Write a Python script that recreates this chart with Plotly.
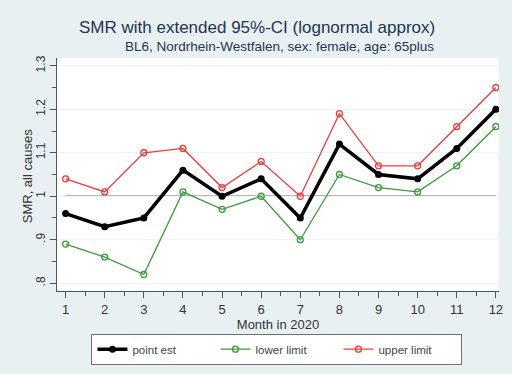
import plotly.graph_objects as go

# Monthly SMR estimates with lognormal 95% confidence limits
months = list(range(1, 13))
point_est = [0.96, 0.93, 0.95, 1.06, 1.00, 1.04, 0.95, 1.12, 1.05, 1.04, 1.11, 1.20]
lower_limit = [0.89, 0.86, 0.82, 1.01, 0.97, 1.00, 0.90, 1.05, 1.02, 1.01, 1.07, 1.16]
upper_limit = [1.04, 1.01, 1.10, 1.11, 1.02, 1.08, 1.00, 1.19, 1.07, 1.07, 1.16, 1.25]

y_ticks = [0.8, 0.9, 1.0, 1.1, 1.2, 1.3]
y_tick_text = [".8", ".9", "1", "1.1", "1.2", "1.3"]
reference_smr = 1.0

BG = "#e9f0f2"
FONT = "Liberation Sans, Arial, sans-serif"

fig = go.Figure()

fig.add_trace(go.Scatter(
    x=months, y=point_est, name="point est", mode="lines+markers",
    line=dict(color="black", width=3.5),
    marker=dict(symbol="circle", size=7, color="black"),
))
fig.add_trace(go.Scatter(
    x=months, y=lower_limit, name="lower limit", mode="lines+markers",
    line=dict(color="#3b9a3b", width=1.3),
    marker=dict(symbol="circle-open", size=6, color="#3b9a3b", line=dict(width=1.3)),
))
fig.add_trace(go.Scatter(
    x=months, y=upper_limit, name="upper limit", mode="lines+markers",
    line=dict(color="#f03a3a", width=1.3),
    marker=dict(symbol="circle-open", size=6, color="#f03a3a", line=dict(width=1.3)),
))

# horizontal reference line at SMR = 1
fig.add_shape(type="line", xref="x", yref="y",
              x0=months[0], x1=months[-1], y0=reference_smr, y1=reference_smr,
              line=dict(color="#707070", width=1.3), layer="below")

fig.update_layout(
    width=512, height=374,
    margin=dict(l=57, r=9, t=58, b=81),
    paper_bgcolor=BG, plot_bgcolor="white",
    font=dict(family=FONT, color="#333333", size=12),
    showlegend=True,
    legend=dict(
        orientation="h", x=0.078, xanchor="left", y=-0.183, yanchor="top",
        bgcolor="white", bordercolor="#707070", borderwidth=1,
        font=dict(size=11.5, color="#444444"),
        entrywidth=78, entrywidthmode="pixels",
    ),
    annotations=[
        dict(text="SMR with extended 95%-CI (lognormal approx)",
             xref="paper", yref="paper", x=(259 - 57) / 446, y=1.0 + (58 - 27) / 235,
             xanchor="center", yanchor="middle", showarrow=False,
             font=dict(size=17, color="#1f3550", family=FONT)),
        dict(text="BL6, Nordrhein-Westfalen, sex: female, age: 65plus",
             xref="paper", yref="paper", x=(282 - 57) / 446, y=1.0 + (58 - 46) / 235,
             xanchor="center", yanchor="middle", showarrow=False,
             font=dict(size=13.5, color="#1f3550", family=FONT)),
        dict(text="SMR, all causes", textangle=-90,
             xref="paper", yref="paper", x=(28 - 57) / 446, y=(293 - 177) / 235,
             xanchor="center", yanchor="middle", showarrow=False,
             font=dict(size=13, color="#333333", family=FONT)),
    ],
)

fig.update_xaxes(
    range=[0.78, 12.08], tickvals=months, ticktext=[str(m) for m in months],
    showline=True, linecolor="#555555", linewidth=1, mirror=False,
    ticks="outside", ticklen=6, tickcolor="#555555",
    minor=dict(tick0=0.5, dtick=1, ticks="outside", ticklen=4, tickcolor="#555555"),
    showgrid=False, zeroline=False,
    tickfont=dict(size=13, color="#333333"),
    title=dict(text="Month in 2020", font=dict(size=13, color="#333333"), standoff=1),
)
fig.update_yaxes(
    range=[0.782, 1.318], tickvals=y_ticks, ticktext=y_tick_text, tickangle=-90,
    showline=True, linecolor="#555555", linewidth=1, mirror=False,
    ticks="outside", ticklen=6, tickcolor="#555555",
    minor=dict(tick0=0.8, dtick=0.05, ticks="outside", ticklen=4, tickcolor="#555555",
               showgrid=False),
    showgrid=True, gridcolor="#eef3f5", gridwidth=1, zeroline=False,
    tickfont=dict(size=12, color="#333333"),
)

fig.write_html("out.html")
